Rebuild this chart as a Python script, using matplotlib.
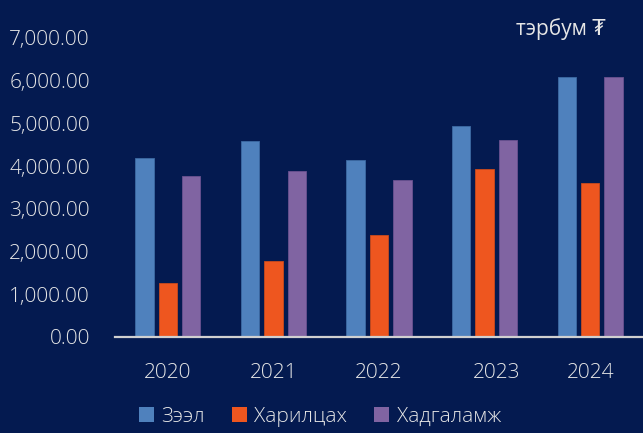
import matplotlib
matplotlib.use("Agg")
import matplotlib.pyplot as plt
from matplotlib.patches import Patch
import matplotlib.transforms as mtransforms
import numpy as np

years = ["2020", "2021", "2022", "2023", "2024"]
zeel = [4200, 4600, 4150, 4950, 6090]
harilcah = [1260, 1775, 2380, 3930, 3600]
hadgalamj = [3770, 3880, 3670, 4610, 6090]
series_names = ["Зээл", "Харилцах", "Хадгаламж"]
unit_label = "тэрбум ₮"

BG = "#041a50"
TXT = "#e6e6e6"
colors = ["#4f81bd", "#ee561f", "#8064a2"]
edges = ["#3d6aa3", "#c84a1c", "#6a5290"]

plt.rcParams['font.family'] = ['Open Sans', 'DejaVu Sans']
plt.rcParams['font.weight'] = 'light'

fig = plt.figure(figsize=(6.43, 4.33), dpi=100, facecolor=BG)
ax = fig.add_axes([115/643, 1-337/433, 1-115/643, (337-38)/433])
ax.set_facecolor(BG)

x = np.arange(len(years))
w = 0.175
off = 0.222
for i, (vals, c, e) in enumerate(zip([zeel, harilcah, hadgalamj], colors, edges)):
    ax.bar(x + (i-1)*off, vals, width=w, color=c, edgecolor=e, linewidth=0.6, zorder=2)

ax.set_xlim(-0.5, 4.5)
ax.set_ylim(0, 7000)
ax.set_yticks(np.arange(0, 7001, 1000))
ax.set_yticklabels([f"{v:,.2f}" for v in np.arange(0, 7001, 1000)])
ax.set_xticks(x)
ax.set_xticklabels(years)
ax.tick_params(axis='y', length=0, pad=18, labelsize=15, labelcolor=TXT)
ax.tick_params(axis='x', length=0, pad=19, labelsize=15, labelcolor=TXT)
for s in ["top", "right", "left"]:
    ax.spines[s].set_visible(False)
ax.spines["bottom"].set_color("#d0d0d0")
ax.spines["bottom"].set_linewidth(1.6)
ax.spines["bottom"].set_zorder(3)

# 2023 label sits slightly to the right in the reference
lbl = ax.get_xticklabels()[3]
lbl.set_transform(lbl.get_transform() + mtransforms.ScaledTranslation(12/100, 0, fig.dpi_scale_trans))

fig.text(606/643, 1-29/433, unit_label, ha="right", va="center", fontsize=15, color=TXT,
         fontweight="normal", family=['Open Sans', 'DejaVu Sans'])

handles = [Patch(facecolor=c, edgecolor="none") for c in colors]
fig.legend(handles, series_names, loc="center", bbox_to_anchor=(320/643, 1-417/433),
           ncol=3, frameon=False, fontsize=15, labelcolor=TXT,
           handlelength=0.72, handleheight=0.72, handletextpad=0.35, columnspacing=1.3,
           borderpad=0, borderaxespad=0)

fig.savefig("out.png", dpi=100, facecolor=BG)
